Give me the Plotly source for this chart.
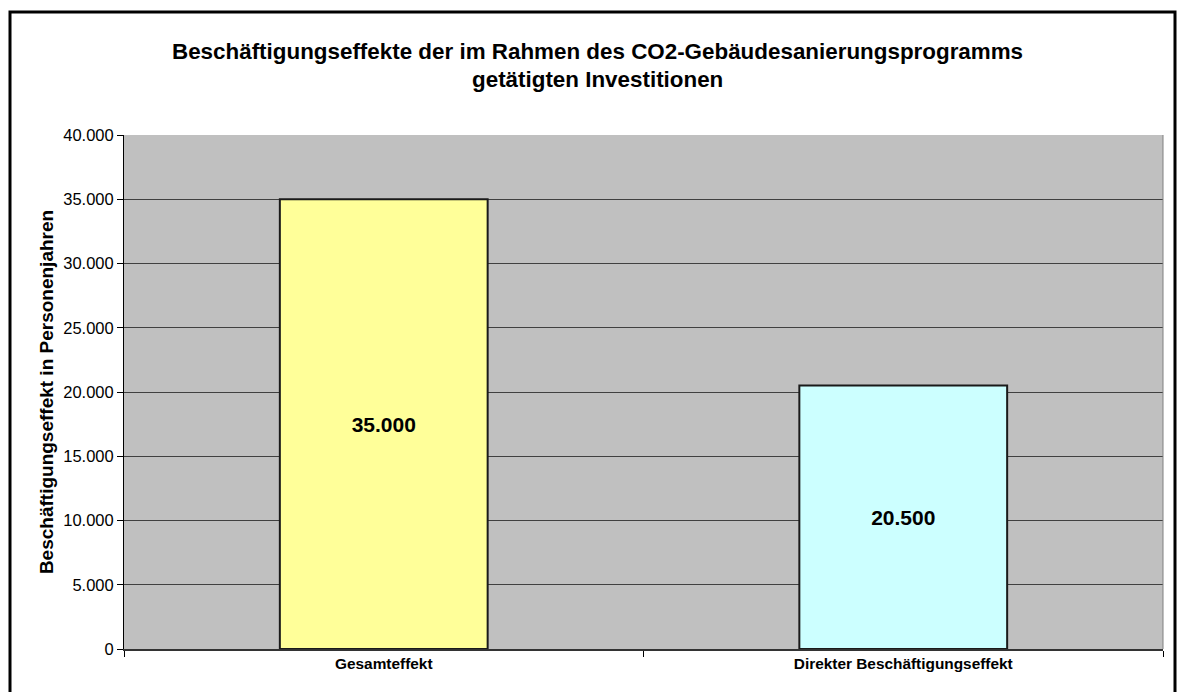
import plotly.graph_objects as go

# data
categories = ["Gesamteffekt", "Direkter Beschäftigungseffekt"]
values = [35000, 20500]
bar_colors = ["#FFFF99", "#CCFFFF"]
y_ticks = [0, 5000, 10000, 15000, 20000, 25000, 30000, 35000, 40000]

FONT = "Arial, Liberation Sans, sans-serif"

fig = go.Figure()

fig.add_trace(go.Bar(
    x=categories,
    y=values,
    width=0.4,
    marker=dict(color=bar_colors, line=dict(color="#1a1a1a", width=2)),
    texttemplate="<b>%{y:,}</b>",
    textposition="inside",
    insidetextanchor="middle",
    textfont=dict(family=FONT, size=21, color="black"),
    hoverinfo="skip",
))

# the page body adds an 8px margin on every side
OFF = 8
W, H = 1185 - 2 * OFF, 700 - 2 * OFF
L, T = 124 - OFF, 135 - OFF
pw, ph = 1039, 514
R = W - L - pw
B = H - T - ph

def px_x(x):
    return (x - OFF - L) / pw

def px_y(y):
    return (H - B - (y - OFF)) / ph

# outer chart border
fig.add_shape(type="rect", xref="paper", yref="paper",
              x0=px_x(10), x1=px_x(1175), y0=px_y(710), y1=px_y(12),
              line=dict(color="black", width=3), layer="above")
# right edge of plot area
fig.add_shape(type="line", xref="paper", yref="paper",
              x0=1, x1=1, y0=0, y1=1,
              line=dict(color="#808080", width=1))

# title
fig.add_annotation(text="<b>Beschäftigungseffekte der im Rahmen des CO2-Gebäudesanierungsprogramms</b>",
                   xref="paper", yref="paper", x=px_x(597), y=px_y(52),
                   xanchor="center", yanchor="middle",
                   showarrow=False, font=dict(family=FONT, size=22.4, color="black"))
fig.add_annotation(text="<b>getätigten Investitionen</b>",
                   xref="paper", yref="paper", x=px_x(597), y=px_y(80),
                   xanchor="center", yanchor="middle",
                   showarrow=False, font=dict(family=FONT, size=22.4, color="black"))

fig.update_layout(
    width=W, height=H,
    margin=dict(l=L, r=R, t=T, b=B),
    paper_bgcolor="white",
    plot_bgcolor="#C0C0C0",
    separators=",.",
    showlegend=False,
    bargap=0.6,
    font=dict(family=FONT, color="black"),
)

fig.update_xaxes(
    type="category",
    tickson="boundaries",
    ticks="outside", ticklen=6, tickcolor="black", tickwidth=1,
    showline=True, linecolor="#333333", linewidth=2,
    showgrid=False,
    tickfont=dict(family=FONT, size=15.4, color="black", weight="bold"),
)

fig.update_yaxes(
    range=[0, 40000],
    tickvals=y_ticks,
    tickformat=",",
    ticks="outside", ticklen=6, tickcolor="black", tickwidth=1,
    showline=True, linecolor="black", linewidth=1,
    showgrid=True, gridcolor="#404040", gridwidth=1,
    zeroline=False,
    tickfont=dict(family=FONT, size=16.5, color="black"),
    title=dict(text="<b>Beschäftigungseffekt in Personenjahren</b>",
               font=dict(family=FONT, size=19, color="black"), standoff=4),
)

fig.write_html("out.html")
